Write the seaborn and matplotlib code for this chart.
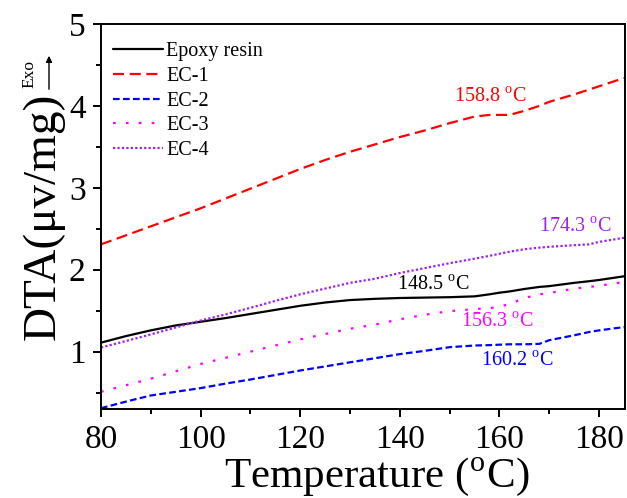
import matplotlib
matplotlib.use("Agg")
import matplotlib.pyplot as plt
import seaborn as sns
import pandas as pd
from matplotlib.ticker import MultipleLocator

# ---- data ----
temps = [80, 85, 90, 95, 100, 105, 110, 115, 120, 125, 130, 135, 140, 145, 150,
         155, 158, 160, 162, 165, 168, 170, 175, 178, 180, 185]
epoxy = [1.11, 1.19, 1.26, 1.32, 1.365, 1.41, 1.46, 1.51, 1.56, 1.60, 1.63, 1.645,
         1.655, 1.66, 1.665, 1.675, 1.70, 1.72, 1.735, 1.765, 1.79, 1.80, 1.84,
         1.86, 1.875, 1.92]
ec1 = [2.31, 2.42, 2.53, 2.64, 2.75, 2.87, 2.99, 3.11, 3.23, 3.34, 3.44, 3.53,
       3.62, 3.70, 3.79, 3.87, 3.89, 3.89, 3.89, 3.94, 4.00, 4.05, 4.14, 4.20,
       4.24, 4.34]
ec2 = [0.31, 0.39, 0.465, 0.51, 0.555, 0.61, 0.66, 0.715, 0.77, 0.82, 0.87, 0.92,
       0.97, 1.01, 1.055, 1.075, 1.08, 1.085, 1.09, 1.09, 1.095, 1.14, 1.20, 1.24,
       1.26, 1.30]
ec3 = [0.51, 0.59, 0.67, 0.76, 0.85, 0.925, 1.0, 1.075, 1.15, 1.215, 1.28, 1.33,
       1.395, 1.45, 1.495, 1.52, 1.53, 1.55, 1.58, 1.655, 1.70, 1.715, 1.77, 1.79,
       1.805, 1.85]
ec4 = [1.05, 1.13, 1.21, 1.295, 1.38, 1.455, 1.535, 1.62, 1.70, 1.77, 1.84, 1.89,
       1.96, 2.02, 2.08, 2.135, 2.17, 2.195, 2.22, 2.25, 2.27, 2.28, 2.30, 2.31,
       2.34, 2.39]

series_names = ["Epoxy resin", "EC-1", "EC-2", "EC-3", "EC-4"]
series_vals = [epoxy, ec1, ec2, ec3, ec4]
colors = ["#000000", "#FF0000", "#0000FF", "#FF00FF", "#A020F0"]
dash_styles = [None, (5, 2.5), (3, 1.5), (1.2, 4.6), (1.0, 1.0)]

# peak annotations, in the same order as the series
ann_text = ["148.5", "158.8", "160.2", "156.3", "174.3"]
ann_x = [146.7, 158.1, 163.7, 159.6, 175.3]
ann_y = [1.81, 4.10, 0.88, 1.355, 2.52]

x_ticks = [80, 100, 120, 140, 160, 180]
y_ticks = [1, 2, 3, 4, 5]

# ---- build long table ----
rows = []
for name, vals in zip(series_names, series_vals):
    for t, v in zip(temps, vals):
        rows.append({"T": t, "DTA": v, "sample": name})
df = pd.DataFrame(rows)

sns.set_theme(style="ticks")
plt.rcParams["font.family"] = ["Liberation Serif", "DejaVu Serif"]
plt.rcParams["mathtext.fontset"] = "stix"
for k in ["text.color", "axes.labelcolor", "xtick.color", "ytick.color",
          "axes.edgecolor"]:
    plt.rcParams[k] = "black"

fig = plt.figure(figsize=(6.27, 4.98), dpi=100)
ax = fig.add_axes([101 / 627, 1 - 409 / 498, 524 / 627, 385 / 498])

for name, col, ds in zip(series_names, colors, dash_styles):
    sub = df[df["sample"] == name]
    kw = {}
    if ds is not None:
        kw["dashes"] = ds
    sns.lineplot(data=sub, x="T", y="DTA", ax=ax, color=col, lw=1.6,
                 label=name, **kw)

for txt, x, y, col in zip(ann_text, ann_x, ann_y, colors):
    ax.text(x, y, txt + r" $^\mathregular{o}$C", color=col, fontsize=14.5,
            ha="center", va="center")

ax.set_xlim(80, 185.2)
ax.set_ylim(0.3, 5)
ax.set_xticks(x_ticks)
ax.set_yticks(y_ticks)
ax.xaxis.set_minor_locator(MultipleLocator(10))
ax.yaxis.set_minor_locator(MultipleLocator(0.5))
ax.tick_params(which="major", direction="out", length=6, width=1.4,
               labelsize=24, pad=5, top=False, right=False)
ax.tick_params(which="minor", direction="out", length=3.8, width=1.4,
               top=False, right=False)
for sp in ax.spines.values():
    sp.set_linewidth(1.4)
    sp.set_color("black")

ax.set_xlabel("")
ax.set_ylabel("DTA(μv/mg)", fontsize=34, labelpad=3)
fig.text(377 / 627, 1 - 487 / 498,
         r"Temperature ($^\mathregular{o}$C)", fontsize=31,
         ha="center", va="baseline")

leg = ax.legend(loc="upper left", frameon=False, fontsize=14.5,
                handlelength=2.5, handletextpad=0.15, labelspacing=0.28,
                borderaxespad=0.5, bbox_to_anchor=(-0.0115, 1.0))

# Exo arrow
fig.text(29 / 627, 1 - 74 / 498, "Exo", rotation=90, fontsize=12.5,
         ha="center", va="center")
fig.patches.append(matplotlib.patches.FancyArrowPatch(
    (49 / 627, 1 - 92 / 498), (49 / 627, 1 - 53 / 498),
    transform=fig.transFigure, arrowstyle="-|>", mutation_scale=9,
    color="black", lw=1.0))

fig.savefig("out.png", dpi=100)
